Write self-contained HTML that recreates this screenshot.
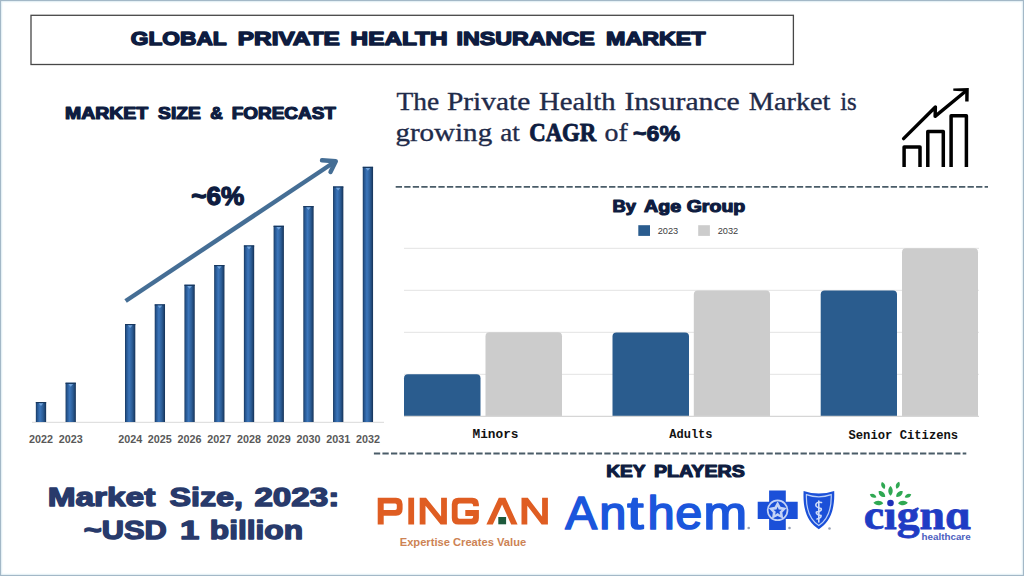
<!DOCTYPE html>
<html><head><meta charset="utf-8">
<style>
html,body{margin:0;padding:0;background:#fff;}
body{width:1024px;height:576px;overflow:hidden;position:relative;}
svg{position:absolute;left:0;top:0;display:block;}
.sans{font-family:"Liberation Sans",sans-serif;}
.serif{font-family:"Liberation Serif",serif;}
.mono{font-family:"Liberation Mono",monospace;}
</style></head>
<body>
<svg width="1024" height="576" viewBox="0 0 1024 576">
<defs>
  <linearGradient id="cyl" x1="0" x2="1" y1="0" y2="0">
    <stop offset="0" stop-color="#17365c"/>
    <stop offset="0.12" stop-color="#24528a"/>
    <stop offset="0.4" stop-color="#3c76bb"/>
    <stop offset="0.7" stop-color="#2c5d96"/>
    <stop offset="0.9" stop-color="#1d426f"/>
    <stop offset="1" stop-color="#142f52"/>
  </linearGradient>
</defs>
<!-- frame -->
<rect x="0.6" y="0.6" width="1022.8" height="574.8" fill="#fff" stroke="#a3b8c7" stroke-width="1.4"/>
<rect x="1.8" y="1.8" width="1020.4" height="572.4" fill="none" stroke="#e6f3f8" stroke-width="1"/>

<!-- title box -->
<rect x="31" y="15.3" width="762.4" height="49.2" fill="none" stroke="#474747" stroke-width="1.3"/>
<text class="sans" x="130.8" y="45.1" font-size="19.2" font-weight="700" fill="#0e1c40" stroke="#0e1c40" stroke-width="1.4" stroke-linejoin="round" textLength="95.9" lengthAdjust="spacingAndGlyphs">GLOBAL</text>
<text class="sans" x="237.8" y="45.1" font-size="19.2" font-weight="700" fill="#0e1c40" stroke="#0e1c40" stroke-width="1.4" stroke-linejoin="round" textLength="102.0" lengthAdjust="spacingAndGlyphs">PRIVATE</text>
<text class="sans" x="350.6" y="45.1" font-size="19.2" font-weight="700" fill="#0e1c40" stroke="#0e1c40" stroke-width="1.4" stroke-linejoin="round" textLength="96.97" lengthAdjust="spacingAndGlyphs">HEALTH</text>
<text class="sans" x="456.6" y="45.1" font-size="19.2" font-weight="700" fill="#0e1c40" stroke="#0e1c40" stroke-width="1.4" stroke-linejoin="round" textLength="138.08" lengthAdjust="spacingAndGlyphs">INSURANCE</text>
<text class="sans" x="606" y="45.1" font-size="19.2" font-weight="700" fill="#0e1c40" stroke="#0e1c40" stroke-width="1.4" stroke-linejoin="round" textLength="99.56" lengthAdjust="spacingAndGlyphs">MARKET</text>

<!-- market size & forecast heading -->
<text class="sans" x="65.0" y="118.7" font-size="16.3" font-weight="700" fill="#0e1c40" stroke="#0e1c40" stroke-width="1.2" stroke-linejoin="round" textLength="83.17" lengthAdjust="spacingAndGlyphs">MARKET</text>
<text class="sans" x="158.1" y="118.7" font-size="16.3" font-weight="700" fill="#0e1c40" stroke="#0e1c40" stroke-width="1.2" stroke-linejoin="round" textLength="42.72" lengthAdjust="spacingAndGlyphs">SIZE</text>
<text class="sans" x="210.3" y="118.7" font-size="16.3" font-weight="700" fill="#0e1c40" stroke="#0e1c40" stroke-width="1.2" stroke-linejoin="round" textLength="12.47" lengthAdjust="spacingAndGlyphs">&amp;</text>
<text class="sans" x="231.7" y="118.7" font-size="16.3" font-weight="700" fill="#0e1c40" stroke="#0e1c40" stroke-width="1.2" stroke-linejoin="round" textLength="104.17" lengthAdjust="spacingAndGlyphs">FORECAST</text>

<!-- left bar chart -->
<line x1="32" y1="422.3" x2="384" y2="422.3" stroke="#d9d9d9" stroke-width="1"/>
<g id="lbars">
  <rect x="35.84" y="402.00" width="10.3" height="20.00" fill="url(#cyl)"/>
  <rect x="35.84" y="402.00" width="10.3" height="1.2" fill="#17375e"/>
  <path d="M38.64,403.20 L43.34,403.20 L40.99,406.00 Z" fill="#7fb0e6" opacity="0.8"/>
  <rect x="65.56" y="382.70" width="10.3" height="39.30" fill="url(#cyl)"/>
  <rect x="65.56" y="382.70" width="10.3" height="1.2" fill="#17375e"/>
  <path d="M68.36,383.90 L73.06,383.90 L70.71,386.70 Z" fill="#7fb0e6" opacity="0.8"/>
  <rect x="125.00" y="324.00" width="10.3" height="98.00" fill="url(#cyl)"/>
  <rect x="125.00" y="324.00" width="10.3" height="1.2" fill="#17375e"/>
  <path d="M127.80,325.20 L132.50,325.20 L130.15,328.00 Z" fill="#7fb0e6" opacity="0.8"/>
  <rect x="154.72" y="304.35" width="10.3" height="117.65" fill="url(#cyl)"/>
  <rect x="154.72" y="304.35" width="10.3" height="1.2" fill="#17375e"/>
  <path d="M157.52,305.55 L162.22,305.55 L159.87,308.35 Z" fill="#7fb0e6" opacity="0.8"/>
  <rect x="184.44" y="284.70" width="10.3" height="137.30" fill="url(#cyl)"/>
  <rect x="184.44" y="284.70" width="10.3" height="1.2" fill="#17375e"/>
  <path d="M187.24,285.90 L191.94,285.90 L189.59,288.70 Z" fill="#7fb0e6" opacity="0.8"/>
  <rect x="214.16" y="265.05" width="10.3" height="156.95" fill="url(#cyl)"/>
  <rect x="214.16" y="265.05" width="10.3" height="1.2" fill="#17375e"/>
  <path d="M216.96,266.25 L221.66,266.25 L219.31,269.05 Z" fill="#7fb0e6" opacity="0.8"/>
  <rect x="243.88" y="245.40" width="10.3" height="176.60" fill="url(#cyl)"/>
  <rect x="243.88" y="245.40" width="10.3" height="1.2" fill="#17375e"/>
  <path d="M246.68,246.60 L251.38,246.60 L249.03,249.40 Z" fill="#7fb0e6" opacity="0.8"/>
  <rect x="273.60" y="225.75" width="10.3" height="196.25" fill="url(#cyl)"/>
  <rect x="273.60" y="225.75" width="10.3" height="1.2" fill="#17375e"/>
  <path d="M276.40,226.95 L281.10,226.95 L278.75,229.75 Z" fill="#7fb0e6" opacity="0.8"/>
  <rect x="303.32" y="206.10" width="10.3" height="215.90" fill="url(#cyl)"/>
  <rect x="303.32" y="206.10" width="10.3" height="1.2" fill="#17375e"/>
  <path d="M306.12,207.30 L310.82,207.30 L308.47,210.10 Z" fill="#7fb0e6" opacity="0.8"/>
  <rect x="333.04" y="186.45" width="10.3" height="235.55" fill="url(#cyl)"/>
  <rect x="333.04" y="186.45" width="10.3" height="1.2" fill="#17375e"/>
  <path d="M335.84,187.65 L340.54,187.65 L338.19,190.45 Z" fill="#7fb0e6" opacity="0.8"/>
  <rect x="362.76" y="166.80" width="10.3" height="255.20" fill="url(#cyl)"/>
  <rect x="362.76" y="166.80" width="10.3" height="1.2" fill="#17375e"/>
  <path d="M365.56,168.00 L370.26,168.00 L367.91,170.80 Z" fill="#7fb0e6" opacity="0.8"/>
</g>
<g class="sans" font-size="11.8" font-weight="700" fill="#595959" text-anchor="middle">
  <text x="40.99" y="443" textLength="24" lengthAdjust="spacingAndGlyphs">2022</text>
  <text x="70.71" y="443" textLength="24" lengthAdjust="spacingAndGlyphs">2023</text>
  <text x="130.15" y="443" textLength="24" lengthAdjust="spacingAndGlyphs">2024</text>
  <text x="159.87" y="443" textLength="24" lengthAdjust="spacingAndGlyphs">2025</text>
  <text x="189.59" y="443" textLength="24" lengthAdjust="spacingAndGlyphs">2026</text>
  <text x="219.31" y="443" textLength="24" lengthAdjust="spacingAndGlyphs">2027</text>
  <text x="249.03" y="443" textLength="24" lengthAdjust="spacingAndGlyphs">2028</text>
  <text x="278.75" y="443" textLength="24" lengthAdjust="spacingAndGlyphs">2029</text>
  <text x="308.47" y="443" textLength="24" lengthAdjust="spacingAndGlyphs">2030</text>
  <text x="338.19" y="443" textLength="24" lengthAdjust="spacingAndGlyphs">2031</text>
  <text x="367.91" y="443" textLength="24" lengthAdjust="spacingAndGlyphs">2032</text>
</g>
<!-- arrow -->
<g stroke="#456e95" stroke-width="4.4" fill="none">
  <line x1="125.6" y1="301" x2="334.5" y2="162"/>
  <polyline points="322,160.3 335.8,161.2 330.5,172" stroke-linecap="round" stroke-linejoin="round"/>
</g>
<text class="sans" x="191.3" y="205.3" font-size="25.8" font-weight="700" fill="#0e1c40" stroke="#0e1c40" stroke-width="1.3" stroke-linejoin="round" textLength="53.09" lengthAdjust="spacingAndGlyphs">~6%</text>

<!-- serif statement -->
<text class="serif" x="396.4" y="110.3" font-size="24.7" font-weight="400" fill="#1f2b4a" stroke="#1f2b4a" stroke-width="0.35" stroke-linejoin="round" textLength="42.71" lengthAdjust="spacingAndGlyphs">The</text>
<text class="serif" x="446.9" y="110.3" font-size="24.7" font-weight="400" fill="#1f2b4a" stroke="#1f2b4a" stroke-width="0.35" stroke-linejoin="round" textLength="83.33" lengthAdjust="spacingAndGlyphs">Private</text>
<text class="serif" x="539" y="110.3" font-size="24.7" font-weight="400" fill="#1f2b4a" stroke="#1f2b4a" stroke-width="0.35" stroke-linejoin="round" textLength="76.55" lengthAdjust="spacingAndGlyphs">Health</text>
<text class="serif" x="624.4" y="110.3" font-size="24.7" font-weight="400" fill="#1f2b4a" stroke="#1f2b4a" stroke-width="0.35" stroke-linejoin="round" textLength="115.36" lengthAdjust="spacingAndGlyphs">Insurance</text>
<text class="serif" x="748.8" y="110.3" font-size="24.7" font-weight="400" fill="#1f2b4a" stroke="#1f2b4a" stroke-width="0.35" stroke-linejoin="round" textLength="81.69" lengthAdjust="spacingAndGlyphs">Market</text>
<text class="serif" x="840.2" y="110.3" font-size="24.7" font-weight="400" fill="#1f2b4a" stroke="#1f2b4a" stroke-width="0.35" stroke-linejoin="round" textLength="16.63" lengthAdjust="spacingAndGlyphs">is</text>
<text class="serif" x="395.4" y="140.8" font-size="24.7" font-weight="400" fill="#1f2b4a" stroke="#1f2b4a" stroke-width="0.35" stroke-linejoin="round" textLength="96.78" lengthAdjust="spacingAndGlyphs">growing</text>
<text class="serif" x="500.2" y="140.8" font-size="24.7" font-weight="400" fill="#1f2b4a" stroke="#1f2b4a" stroke-width="0.35" stroke-linejoin="round" textLength="19.52" lengthAdjust="spacingAndGlyphs">at</text>
<text class="serif" x="529.2" y="140.8" font-size="24.7" font-weight="700" fill="#0e1c40" stroke="#0e1c40" stroke-width="0.9" stroke-linejoin="round" textLength="67.08" lengthAdjust="spacingAndGlyphs">CAGR</text>
<text class="serif" x="604.5" y="140.8" font-size="24.7" font-weight="400" fill="#1f2b4a" stroke="#1f2b4a" stroke-width="0.35" stroke-linejoin="round" textLength="23.21" lengthAdjust="spacingAndGlyphs">of</text>
<text class="sans" x="633" y="141.0" font-size="21.2" font-weight="700" fill="#0e1c40" stroke="#0e1c40" stroke-width="0.9" stroke-linejoin="round" textLength="47.08" lengthAdjust="spacingAndGlyphs">~6%</text>

<!-- growth icon -->
<g stroke="#000" stroke-width="3.5" fill="none" stroke-linecap="butt" stroke-linejoin="round">
  <polyline points="904.1,167 904.1,147 920,147 920,167"/>
  <polyline points="927.8,167 927.8,131.4 943.3,131.4 943.3,167"/>
  <polyline points="951.1,167 951.1,115.7 966.4,115.7 966.4,167"/>
  <polyline points="903.6,138.6 935.4,107 935.1,116.4 966.2,90.8" stroke-linecap="round" stroke-width="3.4"/>
</g>
<path d="M953.3,88.5 L968.8,88.1 L968.6,101.6 L965.2,101.6 L965.2,91.4 L953.3,90.7 Z" fill="#000"/>

<!-- dashed line 1 -->
<line x1="395.7" y1="186.9" x2="988" y2="186.9" stroke="#4a5c68" stroke-width="1.9" stroke-dasharray="6.3 2.235"/>

<!-- By Age Group -->
<text class="sans" x="612.5" y="212.3" font-size="15.8" font-weight="700" fill="#0e1c40" stroke="#0e1c40" stroke-width="1.1" stroke-linejoin="round" textLength="23.44" lengthAdjust="spacingAndGlyphs">By</text>
<text class="sans" x="644" y="212.3" font-size="15.8" font-weight="700" fill="#0e1c40" stroke="#0e1c40" stroke-width="1.1" stroke-linejoin="round" textLength="37.06" lengthAdjust="spacingAndGlyphs">Age</text>
<text class="sans" x="686.7" y="212.3" font-size="15.8" font-weight="700" fill="#0e1c40" stroke="#0e1c40" stroke-width="1.1" stroke-linejoin="round" textLength="58.55" lengthAdjust="spacingAndGlyphs">Group</text>
<rect x="638.3" y="225.2" width="11.7" height="10.7" fill="#2a5c8e"/>
<text class="sans" x="657.7" y="234.3" font-size="9.6" fill="#3d3d3d" textLength="20.5" lengthAdjust="spacingAndGlyphs">2023</text>
<rect x="698.2" y="225.2" width="11.7" height="10.7" fill="#cccccc"/>
<text class="sans" x="717.7" y="234.3" font-size="9.6" fill="#3d3d3d" textLength="20.5" lengthAdjust="spacingAndGlyphs">2032</text>

<g stroke="#e3e3e3" stroke-width="1">
  <line x1="404" y1="248.3" x2="979" y2="248.3"/>
  <line x1="404" y1="290.3" x2="979" y2="290.3"/>
  <line x1="404" y1="332.3" x2="979" y2="332.3"/>
  <line x1="404" y1="374.3" x2="979" y2="374.3"/>
</g>
<g>
  <path d="M404,416 V378.2 a4,4 0 0 1 4,-4 H476.5 a4,4 0 0 1 4,4 V416 Z" fill="#2a5c8e"/>
  <path d="M485.5,416 V336.3 a4,4 0 0 1 4,-4 H558 a4,4 0 0 1 4,4 V416 Z" fill="#cccccc"/>
  <path d="M612.5,416 V336.5 a4,4 0 0 1 4,-4 H685 a4,4 0 0 1 4,4 V416 Z" fill="#2a5c8e"/>
  <path d="M693.8,416 V294.4 a4,4 0 0 1 4,-4 H766 a4,4 0 0 1 4,4 V416 Z" fill="#cccccc"/>
  <path d="M820.7,416 V294.4 a4,4 0 0 1 4,-4 H893 a4,4 0 0 1 4,4 V416 Z" fill="#2a5c8e"/>
  <path d="M902,416 V252.2 a4,4 0 0 1 4,-4 H974 a4,4 0 0 1 4,4 V416 Z" fill="#cccccc"/>
</g>
<line x1="404" y1="416.3" x2="979" y2="416.3" stroke="#d6d6d6" stroke-width="1.2"/>
<g class="mono" font-size="12.5" font-weight="700" fill="#111">
  <text x="472.5" y="437.8" textLength="46" lengthAdjust="spacingAndGlyphs">Minors</text>
  <text x="669.3" y="437.5" textLength="43.2" lengthAdjust="spacingAndGlyphs">Adults</text>
  <text x="848.5" y="438.7" textLength="109.7" lengthAdjust="spacingAndGlyphs">Senior Citizens</text>
</g>

<!-- dashed line 2 -->
<line x1="373.9" y1="453.4" x2="966.3" y2="453.4" stroke="#4a5c68" stroke-width="2" stroke-dasharray="6.3 2.233"/>
<text class="sans" x="606.25" y="476.65" font-size="16.1" font-weight="700" fill="#0e1c40" stroke="#0e1c40" stroke-width="1.1" stroke-linejoin="round" textLength="39.38" lengthAdjust="spacingAndGlyphs">KEY</text>
<text class="sans" x="653.9" y="476.65" font-size="16.1" font-weight="700" fill="#0e1c40" stroke="#0e1c40" stroke-width="1.1" stroke-linejoin="round" textLength="90.85" lengthAdjust="spacingAndGlyphs">PLAYERS</text>

<!-- Market size -->
<text class="sans" x="47.7" y="505.7" font-size="26.7" font-weight="700" fill="#283a6b" stroke="#283a6b" stroke-width="1.4" stroke-linejoin="round" textLength="107.59" lengthAdjust="spacingAndGlyphs">Market</text>
<text class="sans" x="169.5" y="505.7" font-size="26.7" font-weight="700" fill="#283a6b" stroke="#283a6b" stroke-width="1.4" stroke-linejoin="round" textLength="73.55" lengthAdjust="spacingAndGlyphs">Size,</text>
<text class="sans" x="254.4" y="505.7" font-size="26.7" font-weight="700" fill="#283a6b" stroke="#283a6b" stroke-width="1.4" stroke-linejoin="round" textLength="84.94" lengthAdjust="spacingAndGlyphs">2023:</text>
<text class="sans" x="83.8" y="539.3" font-size="26.7" font-weight="700" fill="#283a6b" stroke="#283a6b" stroke-width="1.4" stroke-linejoin="round" textLength="82.97" lengthAdjust="spacingAndGlyphs">~USD</text>
<text class="sans" x="0" y="0" font-size="26.7" font-weight="700" fill="#283a6b" stroke="#283a6b" stroke-width="1.4" stroke-linejoin="round" text-anchor="middle" transform="translate(189.6 539.3) scale(1.3 1)">1</text>
<text class="sans" x="209.8" y="539.3" font-size="26.7" font-weight="700" fill="#283a6b" stroke="#283a6b" stroke-width="1.4" stroke-linejoin="round" textLength="93.25" lengthAdjust="spacingAndGlyphs">billion</text>


<!-- PING AN -->
<g fill="#df5d22">
  <path d="M377.7,524.5 V497.7 H396 Q402.6,497.7 402.6,504.3 V509.1 Q402.6,515.7 396,515.7 H383.7 V524.5 Z M383.7,503.5 V509.9 H395.2 Q396.8,509.9 396.8,508.3 V505.1 Q396.8,503.5 395.2,503.5 Z" fill-rule="evenodd"/>
  <rect x="408.3" y="497.7" width="5.8" height="26.8"/>
  <path d="M419.7,524.5 V497.7 H426 L441.1,516.5 V497.7 H446.9 V524.5 H440.6 L425.5,505.7 V524.5 Z"/>
  <path d="M478.9,506.2 H473.1 V505.3 Q473.1,503.5 471.3,503.5 H459.4 Q457.6,503.5 457.6,505.3 V516.9 Q457.6,518.7 459.4,518.7 H471.3 Q473.1,518.7 473.1,516.9 V515.9 H465.3 V510.1 H478.9 V517.9 Q478.9,524.5 472.3,524.5 H458.4 Q451.8,524.5 451.8,517.9 V504.3 Q451.8,497.7 458.4,497.7 H472.3 Q478.9,497.7 478.9,504.3 Z"/>
  <path d="M486.4,524.5 L498.8,497.7 H505.4 L517.6,524.5 H511.2 L502.1,504.5 L492.8,524.5 Z"/>
  <path d="M521.5,524.5 V497.7 H527.8 L542.1,516.5 V497.7 H547.9 V524.5 H541.6 L527.3,505.7 V524.5 Z"/>
</g>
<rect x="498.3" y="517" width="7.8" height="7.3" fill="#1d5a3c"/>
<text class="sans" x="399.7" y="545.9" font-size="10" font-weight="700" fill="#cd8354" textLength="126.5" lengthAdjust="spacingAndGlyphs">Expertise Creates Value</text>

<!-- Anthem -->
<g class="sans" font-size="47" fill="#1b56dc" stroke="#1b56dc" stroke-width="1.7" stroke-linejoin="round">
  <text x="0" y="0" transform="translate(565.26 529.45) scale(1.015 1)">A</text>
  <text x="0" y="0" transform="translate(599.27 529.45) scale(1.037 1)">n</text>
  <text x="0" y="0" transform="translate(627.21 529.45) scale(1.248 1)">t</text>
  <text x="0" y="0" transform="translate(647.56 529.45) scale(1.041 1)">h</text>
  <text x="0" y="0" transform="translate(675.32 529.45) scale(1.030 1)">e</text>
  <text x="0" y="0" transform="translate(703.41 529.45) scale(1.112 1)">m</text>
</g>
<circle cx="748.7" cy="528" r="1.3" fill="#9aa3b5"/>
<path d="M769.1,490.4 H785.8 V501.8 H797.7 V519 H785.8 V529.9 H769.1 V519 H757.7 V501.8 H769.1 Z" fill="#1b50d8"/>
<circle cx="777.6" cy="510.3" r="9.9" fill="none" stroke="#c3d3f6" stroke-width="1.7"/>
<polygon points="777.60,501.30 780.54,506.85 786.73,507.93 782.36,512.45 783.24,518.67 777.60,515.90 771.96,518.67 772.84,512.45 768.47,507.93 774.66,506.85" fill="#c3d3f6"/>
<polygon points="777.60,506.70 778.72,509.56 781.78,509.74 779.41,511.69 780.19,514.66 777.60,513.00 775.01,514.66 775.79,511.69 773.42,509.74 776.48,509.56" fill="#1b50d8"/>
<circle cx="789.5" cy="528" r="1.3" fill="#9aa3b5"/>
<path d="M803.6,491 Q818.8,496 834.2,491 C835,510 830,522 818.8,529.2 C807.6,522 802.6,510 803.6,491 Z" fill="#1b50d8"/>
<path d="M806.4,494.6 Q818.8,499 831.2,494.6 C831.7,510 827.5,519.8 818.8,525.6 C810.1,519.8 805.9,510 806.4,494.6 Z" fill="none" stroke="#bcd0f7" stroke-width="1.2"/>
<g stroke="#d0ddf8" stroke-width="1.6" fill="none" stroke-linecap="round">
  <path d="M818.8,501 V522"/>
  <path d="M821.5,502.5 Q816,501.5 815.8,505 Q816,507.5 821,508.5 Q822.5,511 816.5,512 Q815.5,514.5 821,515.5 Q821.5,518 817,519"/>
</g>
<circle cx="829.5" cy="528.5" r="1.3" fill="#9aa3b5"/>

<!-- Cigna -->
<g fill="#2fa852">
  <path d="M0,-3.7 C2.47,-1.67 2.47,1.67 0,3.7 C-2.47,1.67 -2.47,-1.67 0,-3.7 Z" transform="translate(883.2 485.6) rotate(-20)"/>
  <path d="M0,-3.7 C2.47,-1.67 2.47,1.67 0,3.7 C-2.47,1.67 -2.47,-1.67 0,-3.7 Z" transform="translate(897.8 485.3) rotate(20)"/>
  <path d="M0,-4.9 C2.93,-2.21 2.93,2.21 0,4.9 C-2.93,2.21 -2.93,-2.21 0,-4.9 Z" transform="translate(890.5 490.8) rotate(0)"/>
  <path d="M0,-4.4 C2.93,-1.98 2.93,1.98 0,4.4 C-2.93,1.98 -2.93,-1.98 0,-4.4 Z" transform="translate(881.9 494.1) rotate(-48)"/>
  <path d="M0,-4.4 C2.93,-1.98 2.93,1.98 0,4.4 C-2.93,1.98 -2.93,-1.98 0,-4.4 Z" transform="translate(899.4 493.9) rotate(48)"/>
  <path d="M0,-3.6 C2.47,-1.62 2.47,1.62 0,3.6 C-2.47,1.62 -2.47,-1.62 0,-3.6 Z" transform="translate(873.1 495.7) rotate(-65)"/>
  <path d="M0,-3.6 C2.47,-1.62 2.47,1.62 0,3.6 C-2.47,1.62 -2.47,-1.62 0,-3.6 Z" transform="translate(908 495.7) rotate(65)"/>
  <path d="M0,-4.9 C3.00,-2.21 3.00,2.21 0,4.9 C-3.00,2.21 -3.00,-2.21 0,-4.9 Z" transform="translate(878.3 503) rotate(-88)"/>
  <path d="M0,-4.9 C3.00,-2.21 3.00,2.21 0,4.9 C-3.00,2.21 -3.00,-2.21 0,-4.9 Z" transform="translate(903 503) rotate(88)"/>
</g>
<text class="serif" x="863.8" y="529" font-size="43" font-weight="700" fill="#1f3cc4" stroke="#1f3cc4" stroke-width="0.8" textLength="107.5" lengthAdjust="spacingAndGlyphs">c&#x131;gn&#x251;</text>
<circle cx="890.5" cy="503" r="3.3" fill="#1f2fb8"/>
<text class="sans" x="921.6" y="540.2" font-size="8.8" font-weight="700" fill="#4c60c0" textLength="49" lengthAdjust="spacingAndGlyphs">healthcare</text>
</svg>
</body></html>
